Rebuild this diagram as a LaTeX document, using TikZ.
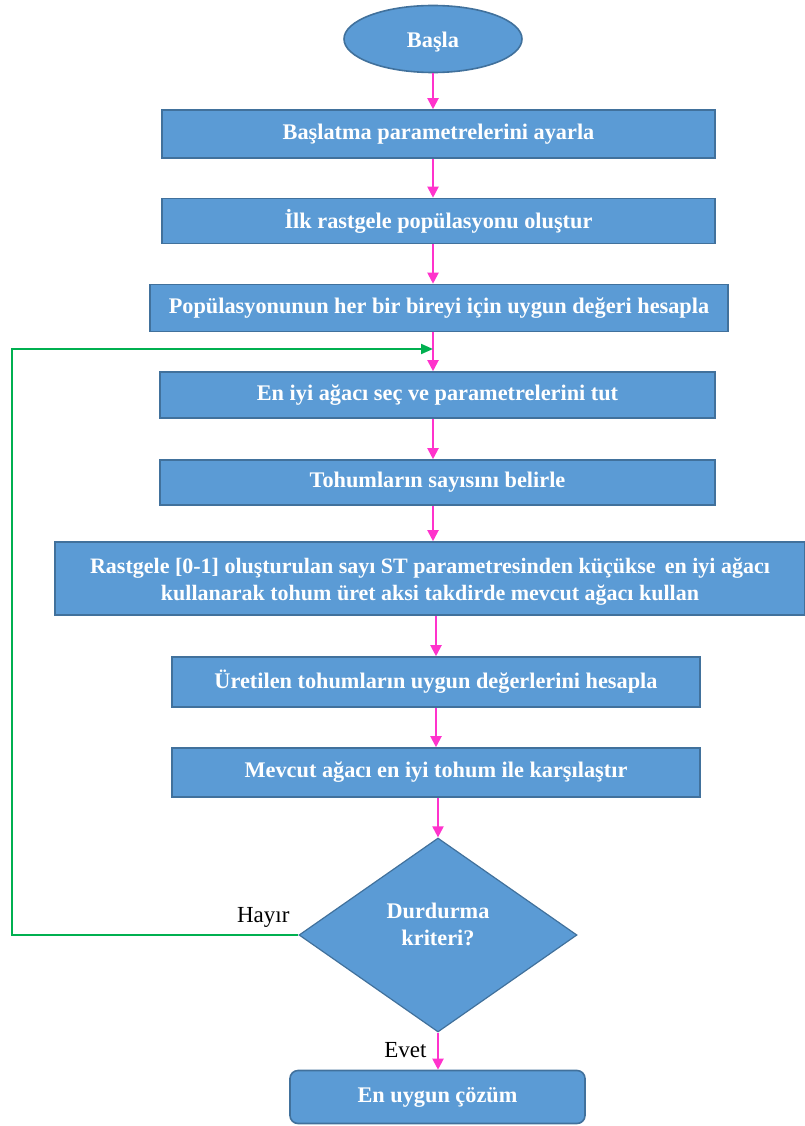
\documentclass[tikz,border=0pt]{standalone}
\usepackage{fontspec}
\setmainfont{Liberation Serif}
\usetikzlibrary{shapes.geometric,arrows.meta}
\definecolor{boxfill}{HTML}{5B9BD5}
\definecolor{boxline}{HTML}{41719C}
\definecolor{pinkarrow}{HTML}{FF33CC}
\definecolor{greenline}{HTML}{00B050}
\tikzset{
  box/.style={draw=boxline, line width=1.6pt, fill=boxfill, text=white, font=\fontsize{22.3}{27}\selectfont\bfseries, inner sep=0pt, align=center},
  flow/.style={draw=pinkarrow, line width=2pt, -{Triangle[length=11pt,width=11pt]}},
  loop/.style={draw=greenline, line width=2pt, -{Triangle[length=12pt,width=10pt]}},
  lbl/.style={font=\fontsize{23}{27}\selectfont, text=black}
}
\begin{document}
\begin{tikzpicture}[x=1pt,y=-1pt]
\useasboundingbox (0,0) rectangle (805,1126);
\node[box, ellipse, minimum width=178pt, minimum height=67pt] (start) at (433,39) {};
\node[box, draw=none, fill=none] (startt) at (433,42) {Başla};
\node[box, minimum width=553pt, minimum height=48pt] (b1) at (438.5,134) {Başlatma parametrelerini ayarla};
\node[box, minimum width=553pt, minimum height=45pt] (b2) at (438.5,221) {İlk rastgele popülasyonu oluştur};
\node[box, minimum width=578pt, minimum height=47pt] (b3) at (439,308) {Popülasyonunun her bir bireyi için uygun değeri hesapla};
\coordinate (j) at (433,349);
\node[box, minimum width=555pt, minimum height=46pt] (b4) at (437.5,395) {En iyi ağacı seç ve parametrelerini tut};
\node[box, minimum width=555pt, minimum height=45pt] (b5) at (437.5,482.5) {Tohumların sayısını belirle};
\node[box, minimum width=750pt, minimum height=73pt, font=\fontsize{22}{27}\selectfont\bfseries] (b6) at (430,578.5) {};
\node[box, draw=none, fill=none, font=\fontsize{22}{27}\selectfont\bfseries] (b6t) at (430,582) {Rastgele [0-1] oluşturulan sayı ST parametresinden küçükse\, en iyi ağacı\\kullanarak tohum üret aksi takdirde mevcut ağacı kullan};
\node[box, minimum width=528pt, minimum height=50pt] (b7) at (436,682) {Üretilen tohumların uygun değerlerini hesapla};
\node[box, minimum width=528pt, minimum height=49pt] (b8) at (436,772.5) {Mevcut ağacı en iyi tohum ile karşılaştır};
\node[box, diamond, minimum width=278pt, minimum height=194pt, line width=1.2pt] (d) at (438,935) {};
\node[box, draw=none, fill=none] (dt) at (438,924) {Durdurma\\kriteri?};
\node[box, rounded corners=8pt, minimum width=295pt, minimum height=53pt] (end) at (437.5,1097) {En uygun çözüm};
\draw[flow] (start) -- (b1.north -| start);
\draw[flow] (b1.south -| start) -- (b2.north -| start);
\draw[flow] (b2.south -| start) -- (b3.north -| start);
\draw[flow] (b3.south -| start) -- (b4.north -| start);
\draw[flow] (b4.south -| start) -- (b5.north -| start);
\draw[flow] (b5.south -| start) -- (b6.north -| start);
\draw[flow] (b6.south -| b7) -- (b7.north);
\draw[flow] (b7.south) -- (b8.north);
\draw[flow] (b8.south -| d) -- (d.north);
\draw[flow] (d.south) -- (end.north -| d);
\coordinate (gl) at (12,935);
\coordinate (gt) at (12,349);
\draw[loop] (d.west) -- (gl) -- (gt) -- (j);
\node[lbl, anchor=south east] (hay) at (293,931) {Hayır};
\node[lbl, anchor=south east] (evet) at (430,1061) {Evet};
\end{tikzpicture}
\end{document}
